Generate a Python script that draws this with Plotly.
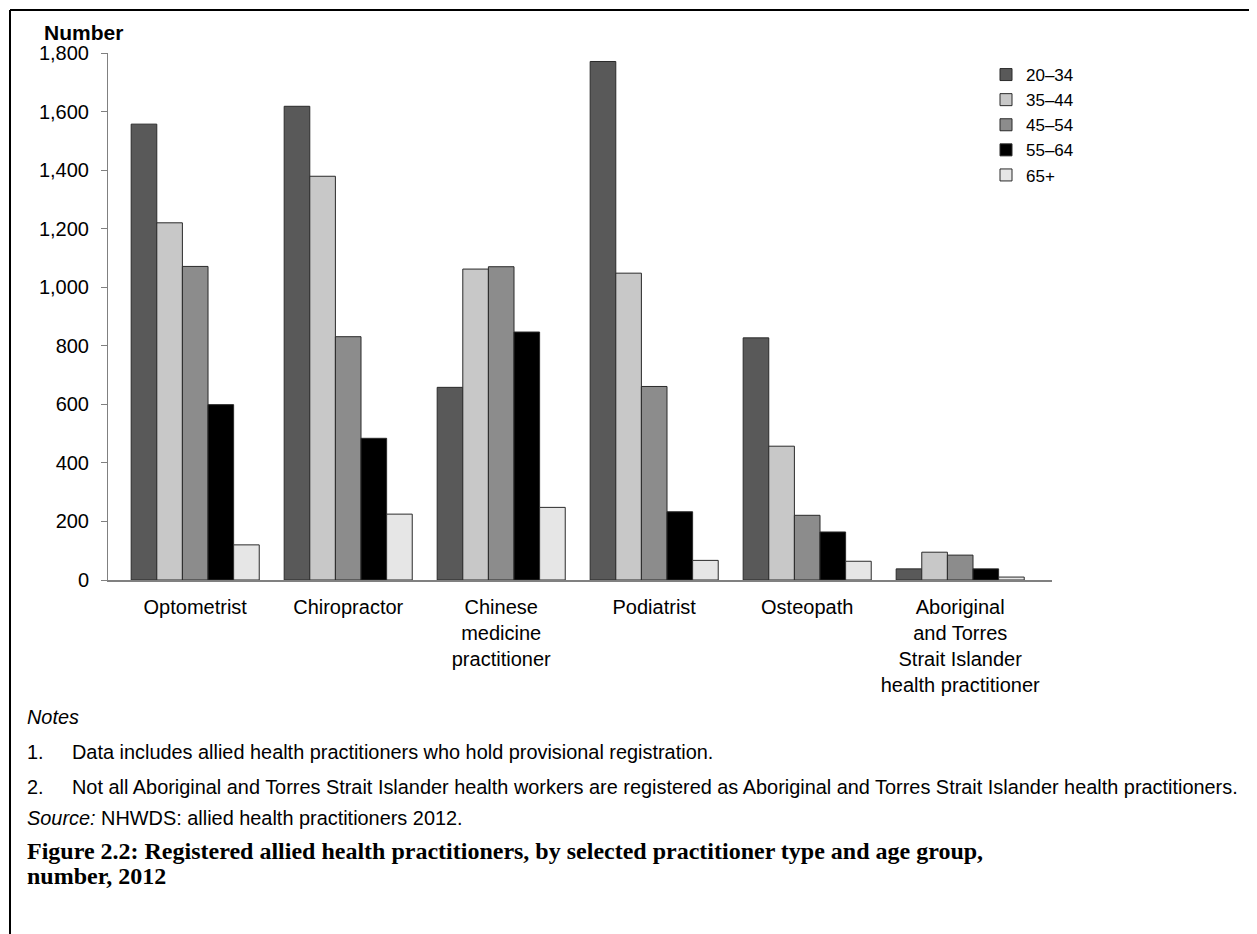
import plotly.graph_objects as go

categories = ["Optometrist", "Chiropractor", "Chinese<br>medicine<br>practitioner",
              "Podiatrist", "Osteopath",
              "Aboriginal<br>and Torres<br>Strait Islander<br>health practitioner"]
age_groups = ["20–34", "35–44", "45–54", "55–64", "65+"]
v_20_34 = [1557, 1618, 658, 1771, 827, 38]
v_35_44 = [1220, 1379, 1062, 1048, 457, 95]
v_45_54 = [1071, 831, 1070, 661, 221, 85]
v_55_64 = [599, 484, 847, 233, 164, 38]
v_65 = [120, 225, 248, 67, 64, 10]
series = [v_20_34, v_35_44, v_45_54, v_55_64, v_65]
colors = ["#595959", "#c8c8c8", "#8c8c8c", "#000000", "#e6e6e6"]

OFF = 8  # page body margin
W, H = 1257 - OFF, 934 - OFF
# plot area in page pixels
PL, PR, PT, PB = 108, 1052, 53, 580
L, R, T, B = PL - OFF, PR - OFF, PT - OFF, PB - OFF
FONT = "Liberation Sans, Arial, sans-serif"
SERIF = "Liberation Serif, Times New Roman, serif"

def fx(px):
    return (px - PL) / (PR - PL)

def fy(py):
    return (PB - py) / (PB - PT)

fig = go.Figure()
for name, vals, col in zip(age_groups, series, colors):
    fig.add_trace(go.Bar(x=categories, y=vals, name=name, legendgroup=name,
                         marker=dict(color=col, line=dict(color="#2a2a2a", width=1))))

def txt(text, x, y, size, family=FONT, xanchor="left", yanchor="middle"):
    return dict(text=text, x=fx(x), y=fy(y), xref="paper", yref="paper", showarrow=False,
                xanchor=xanchor, yanchor=yanchor, align="left",
                font=dict(size=size, family=family, color="black"))

NS = 19.9
ann = [
    txt("<b>Number</b>", 42, 32, 21),
    txt("<i>Notes</i>", 25, 717, NS),
    txt("1.", 25, 752, NS),
    txt("Data includes allied health practitioners who hold provisional registration.", 70, 752, NS),
    txt("2.", 25, 787, NS),
    txt("Not all Aboriginal and Torres Strait Islander health workers are registered as Aboriginal and Torres Strait Islander health practitioners.", 70, 787, NS),
    txt("<i>Source:</i> NHWDS: allied health practitioners 2012.", 25, 818, NS),
    txt("<b>Figure 2.2: Registered allied health practitioners, by selected practitioner type and age group,</b>", 25, 851, 24, SERIF),
    txt("<b>number, 2012</b>", 25, 876, 24, SERIF),
]

shapes = [
    dict(type="line", xref="paper", yref="paper", x0=fx(10), x1=fx(10), y0=fy(10), y1=fy(934),
         line=dict(color="black", width=2)),
    dict(type="line", xref="paper", yref="paper", x0=fx(10), x1=fx(1257), y0=fy(10), y1=fy(10),
         line=dict(color="black", width=2)),
]

fig.update_layout(
    width=W, height=H,
    margin=dict(l=L, r=W - R, t=T, b=H - B, pad=0),
    paper_bgcolor="white", plot_bgcolor="white",
    barmode="group", bargap=0.163, bargroupgap=0,
    font=dict(family=FONT, size=20, color="black"),
    showlegend=True,
    legend=dict(x=fx(986), y=fy(57), xanchor="left", yanchor="top",
                font=dict(size=17, family=FONT, color="black"),
                bgcolor="rgba(0,0,0,0)", tracegroupgap=0, itemwidth=30),
    annotations=ann, shapes=shapes,
    xaxis=dict(range=[-0.57, 5.6], showline=True, linecolor="#808080", linewidth=2,
               ticks="", showgrid=False, zeroline=False, ticklabelstandoff=8,
               tickfont=dict(size=20, family=FONT, color="black")),
    yaxis=dict(range=[0, 1800], dtick=200, tickformat=",", showline=True, linecolor="#808080",
               linewidth=1, ticks="outside", ticklen=6, tickcolor="#808080",
               showgrid=False, zeroline=False, ticklabelstandoff=8,
               tickfont=dict(size=20, family=FONT, color="black")),
)

fig.write_html("out.html")
